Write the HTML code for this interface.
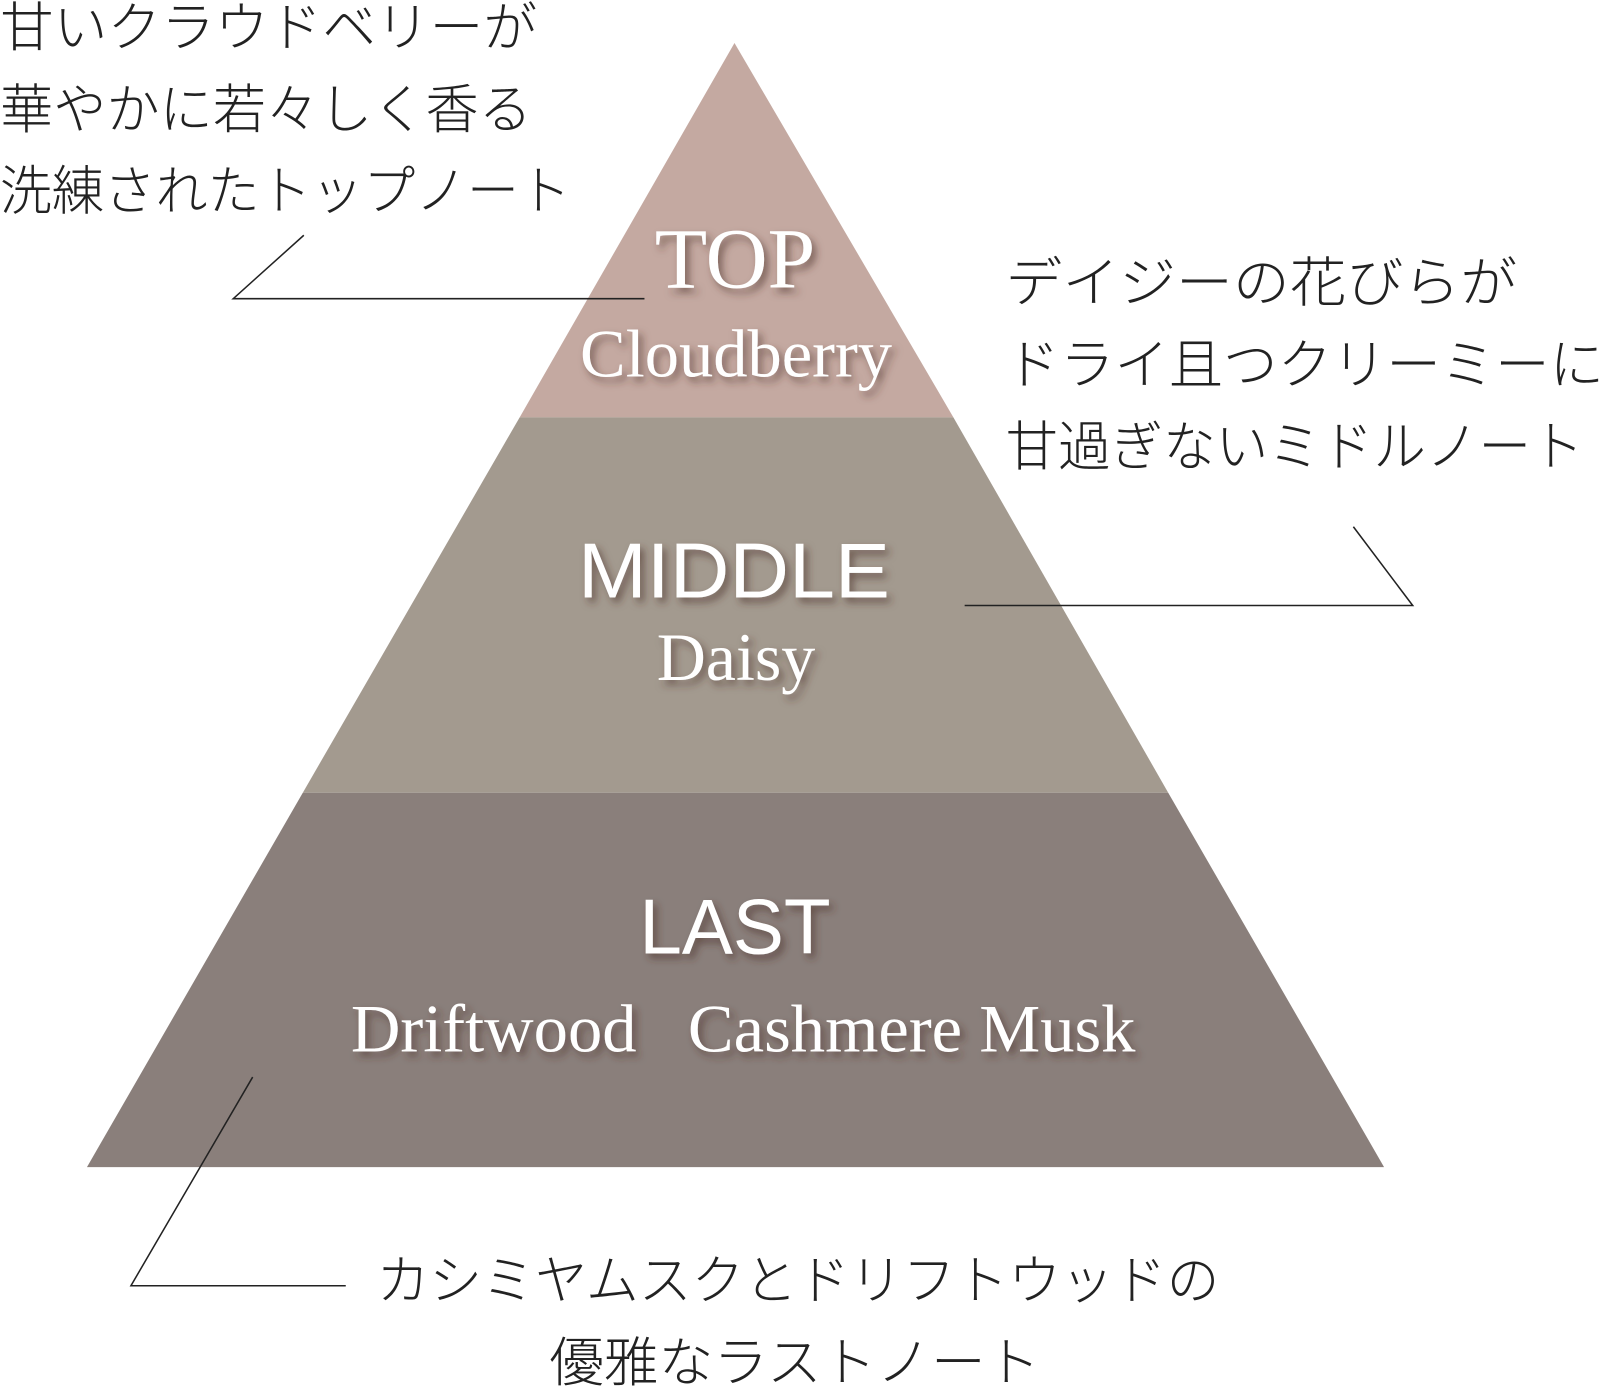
<!DOCTYPE html>
<html><head><meta charset="utf-8"><style>
html,body{margin:0;padding:0;background:#fff;}
svg{display:block}
.jp{font-family:"Liberation Sans","Noto Sans CJK JP",sans-serif;font-size:52px;fill:#222;font-weight:300}
</style></head><body>
<svg width="1604" height="1388" viewBox="0 0 1568 1357" preserveAspectRatio="none">
<defs>
<filter id="sh2" x="-20%" y="-40%" width="140%" height="180%">
<feGaussianBlur in="SourceAlpha" stdDeviation="4" result="b"/><feOffset in="b" dx="4" dy="5" result="o"/>
<feFlood flood-color="#4a2f28" flood-opacity="0.6"/><feComposite in2="o" operator="in" result="s"/>
<feMerge><feMergeNode in="s"/><feMergeNode in="SourceGraphic"/></feMerge></filter></defs>
<polygon points="718,42 932,408 508,408" fill="#c4a9a1"/>
<polygon points="508,408 932,408 1142,775 296,775" fill="#a39a8f"/>
<polygon points="296,775 1142,775 1353,1141 85,1141" fill="#8a7f7b"/>
<g style="filter:url(#sh2)" fill="#fff">
<text x="640" y="281" textLength="157" lengthAdjust="spacingAndGlyphs" font-family="Liberation Serif, serif" font-size="84">TOP</text>
<text x="567" y="368" textLength="305" lengthAdjust="spacingAndGlyphs" font-family="Liberation Serif, serif" font-size="66">Cloudberry</text>
<text x="565" y="584" textLength="305" lengthAdjust="spacingAndGlyphs" font-family="Liberation Sans, sans-serif" font-size="76">MIDDLE</text>
<text x="642" y="665" textLength="155" lengthAdjust="spacingAndGlyphs" font-family="Liberation Serif, serif" font-size="66">Daisy</text>
<text x="625" y="932" textLength="187" lengthAdjust="spacingAndGlyphs" font-family="Liberation Sans, sans-serif" font-size="76">LAST</text>
<text x="343" y="1028" textLength="767" lengthAdjust="spacingAndGlyphs" font-family="Liberation Serif, serif" font-size="66" xml:space="preserve">Driftwood   Cashmere Musk</text>
</g>
<g stroke="#222" stroke-width="1.5" fill="none">
<polyline points="297,230 228,292 630,292"/>
<polyline points="943,592 1381,592 1323,515"/>
<polyline points="247,1053 128,1257 338,1257"/>
</g>
<text class="jp" x="0" y="45" textLength="525" lengthAdjust="spacingAndGlyphs">甘いクラウドベリーが</text>
<text class="jp" x="0" y="125" textLength="520" lengthAdjust="spacingAndGlyphs">華やかに若々しく香る</text>
<text class="jp" x="0" y="205" textLength="558" lengthAdjust="spacingAndGlyphs">洗練されたトップノート</text>
<text class="jp" x="983" y="295" textLength="500" lengthAdjust="spacingAndGlyphs" style="font-size:53px">デイジーの花びらが</text>
<text class="jp" x="983" y="375" textLength="585" lengthAdjust="spacingAndGlyphs" style="font-size:53px">ドライ且つクリーミーに</text>
<text class="jp" x="983" y="455" textLength="565" lengthAdjust="spacingAndGlyphs" style="font-size:53px">甘過ぎないミドルノート</text>
<text class="jp" x="368" y="1270" textLength="824" lengthAdjust="spacingAndGlyphs">カシミヤムスクとドリフトウッドの</text>
<text class="jp" x="537" y="1350" textLength="480" lengthAdjust="spacingAndGlyphs">優雅なラストノート</text>
</svg>
</body></html>
